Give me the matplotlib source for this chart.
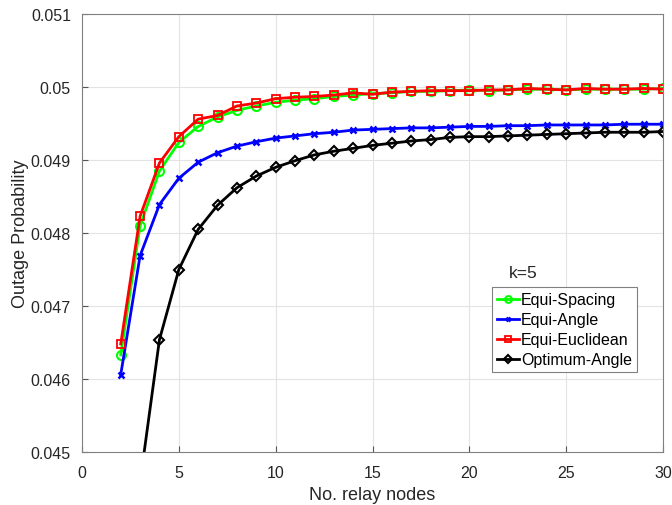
import matplotlib
matplotlib.use('Agg')
import matplotlib.pyplot as plt

plt.rcParams['font.family'] = ['Liberation Sans', 'DejaVu Sans']

# data
relays = list(range(2, 31))

equi_spacing = [0.04633, 0.04810, 0.04885, 0.04924, 0.04946, 0.04959, 0.04968, 0.04974,
                0.04979, 0.04982, 0.04984, 0.04987, 0.04989, 0.04991, 0.04992, 0.04994,
                0.04994, 0.04995, 0.04996, 0.04995, 0.04996, 0.04997, 0.04997, 0.04996,
                0.04997, 0.04997, 0.04997, 0.04997, 0.04998]

equi_angle = [0.04606, 0.04769, 0.04839, 0.04875, 0.04897, 0.04910, 0.04919, 0.04925,
              0.04930, 0.04933, 0.04936, 0.04938, 0.04941, 0.04942, 0.04943, 0.04944,
              0.04944, 0.04945, 0.04946, 0.04946, 0.04947, 0.04947, 0.04948, 0.04948,
              0.04948, 0.04948, 0.04949, 0.04949, 0.04949]

equi_euclidean = [0.04648, 0.04823, 0.04896, 0.04932, 0.04956, 0.04961, 0.04974, 0.04978,
                  0.04984, 0.04986, 0.04987, 0.04989, 0.04992, 0.04990, 0.04993, 0.04994,
                  0.04995, 0.04995, 0.04995, 0.04996, 0.04996, 0.04998, 0.04997, 0.04996,
                  0.04998, 0.04997, 0.04997, 0.04998, 0.04997]

optimum_angle = [0.04180, 0.04459, 0.04654, 0.04750, 0.04805, 0.04838, 0.04862, 0.04878,
                 0.04890, 0.04899, 0.04907, 0.04912, 0.04916, 0.04920, 0.04923, 0.04926,
                 0.04928, 0.04931, 0.04932, 0.04932, 0.04933, 0.04934, 0.04935, 0.04936,
                 0.04937, 0.04938, 0.04938, 0.04938, 0.04939]

x_ticks = [0, 5, 10, 15, 20, 25, 30]
y_ticks = [0.045, 0.046, 0.047, 0.048, 0.049, 0.05, 0.051]
y_tick_labels = ['0.045', '0.046', '0.047', '0.048', '0.049', '0.05', '0.051']

fig = plt.figure(figsize=(6.72, 5.06), dpi=100)
ax = fig.add_axes([82 / 672, 1 - 453 / 506, (663 - 82) / 672, (453 - 15) / 506])

ax.plot(relays, equi_spacing, color='#00ff00', marker='o', markersize=6.5,
        markerfacecolor='none', markeredgewidth=1.5, linewidth=2, label='Equi-Spacing')
ax.plot(relays, equi_angle, color='#0000ff', marker='x', markersize=4.5,
        markeredgewidth=1.8, linewidth=2, label='Equi-Angle')
ax.plot(relays, equi_euclidean, color='#ff0000', marker='s', markersize=5.5,
        markerfacecolor='none', markeredgewidth=1.3, linewidth=2, label='Equi-Euclidean')
ax.plot(relays, optimum_angle, color='black', marker='D', markersize=5.5,
        markerfacecolor='none', markeredgewidth=1.5, linewidth=2, label='Optimum-Angle')

ax.set_xlim(0, 30)
ax.set_ylim(0.045, 0.051)
ax.set_xticks(x_ticks)
ax.set_yticks(y_ticks)
ax.set_yticklabels(y_tick_labels)
ax.tick_params(direction='in', labelsize=11.5, colors='#555555', labelcolor='#262626',
               length=4, width=0.8)
ax.tick_params(axis='x', pad=9)
ax.tick_params(axis='y', pad=8)
ax.grid(True, color='#e3e3e3', linewidth=0.8)
ax.set_axisbelow(True)
for s in ax.spines.values():
    s.set_color('#808080')
    s.set_linewidth(0.8)

ax.set_xlabel('No. relay nodes', fontsize=13, color='#262626', labelpad=5)
ax.set_ylabel('Outage Probability', fontsize=13, color='#262626', labelpad=1)

ax.text(0.735, 0.40, 'k=5', transform=ax.transAxes, fontsize=12.5, color='#262626')

leg = ax.legend(loc='upper left', bbox_to_anchor=(0.706, 0.376), fontsize=11.5,
                handlelength=1.4, handletextpad=0.1, borderpad=0.3, labelspacing=0.32,
                borderaxespad=0, fancybox=False, framealpha=1, edgecolor='#808080',
                markerscale=0.75)
leg.get_frame().set_linewidth(0.8)

fig.savefig('out.png', dpi=100)
